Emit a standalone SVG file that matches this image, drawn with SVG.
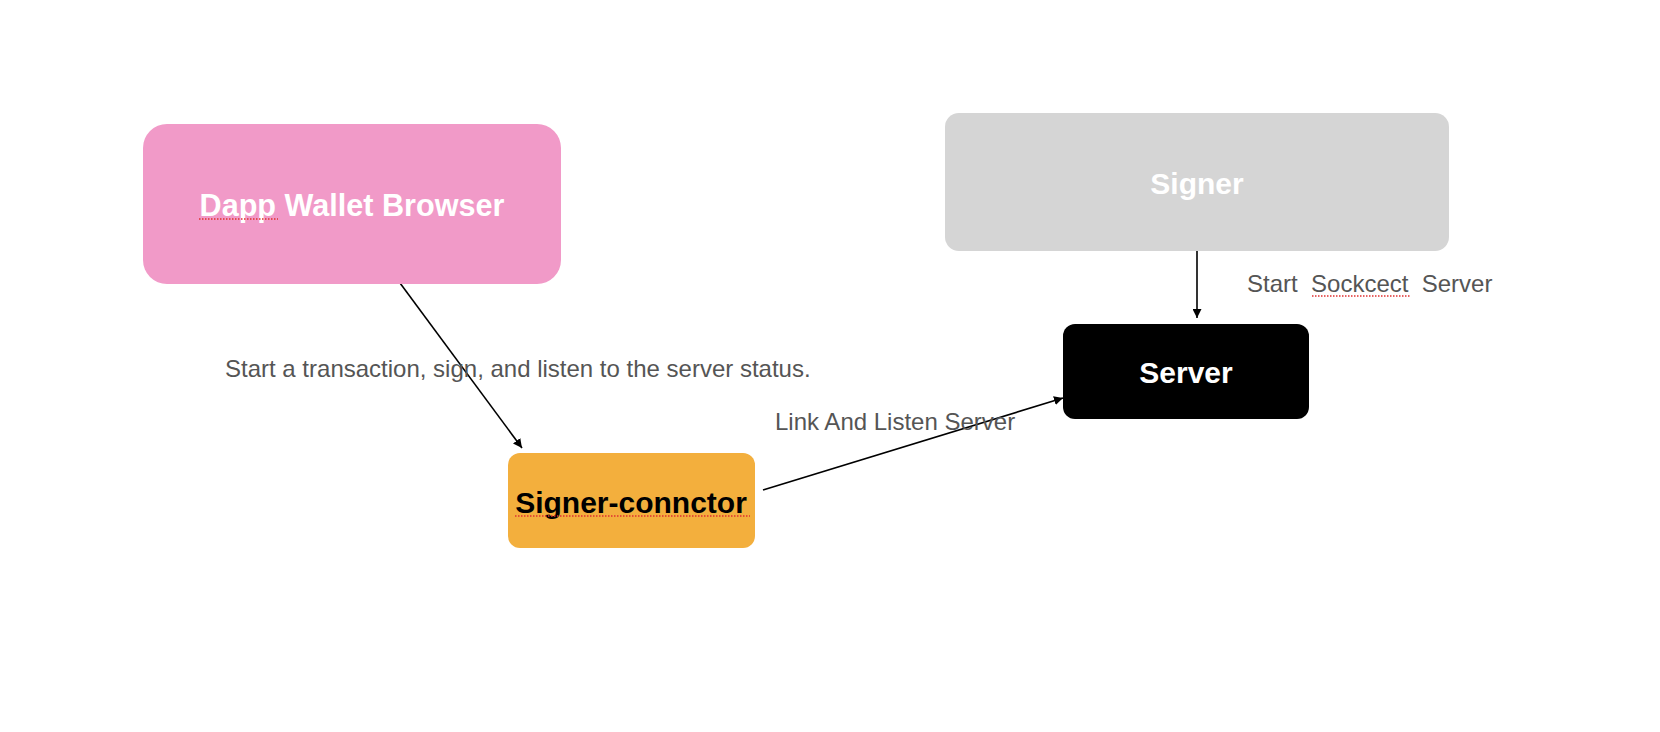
<svg xmlns="http://www.w3.org/2000/svg" width="1660" height="732" viewBox="0 0 1660 732">
<style>
.lbl{font-family:"Liberation Sans",Arial,sans-serif;font-size:24px;fill:#555555;white-space:pre}
.nt{font-family:"Liberation Sans",Arial,sans-serif;font-size:30px;font-weight:bold;text-anchor:middle}
.edge{stroke:#000;stroke-width:1.6;fill:none;marker-end:url(#ah)}
.spell{stroke:#e03030;stroke-width:1.5;stroke-dasharray:1.5 1.5;fill:none}
</style>
<defs>
<marker id="ah" viewBox="0 0 10 10" refX="10" refY="5" markerWidth="9" markerHeight="9" markerUnits="userSpaceOnUse" orient="auto">
<path d="M0,0 L10,5 L0,10 z" fill="#000"/>
</marker>
</defs>
<rect width="1660" height="732" fill="#fff"/>
<g id="connectors">
<line class="edge" x1="400" y1="283" x2="522" y2="448"/>
<line class="edge" x1="763" y1="490" x2="1063" y2="398"/>
<line class="edge" x1="1197" y1="251" x2="1197" y2="318"/>
</g>
<g id="node-dapp">
<rect x="143" y="124" width="418" height="160" rx="24" fill="#f19ac8"/>
<text class="nt" x="352" y="216" fill="#fff" style="font-size:30.6px">Dapp Wallet Browser</text>
<line class="spell" x1="199" y1="219" x2="278" y2="219"/>
</g>
<g id="node-signer">
<rect x="945" y="113" width="504" height="138" rx="14" fill="#d5d5d5"/>
<text class="nt" x="1197" y="194" fill="#fff">Signer</text>
</g>
<g id="node-server">
<rect x="1063" y="324" width="246" height="95" rx="12" fill="#000"/>
<text class="nt" x="1186" y="383" fill="#fff">Server</text>
</g>
<g id="node-connector">
<rect x="508" y="453" width="247" height="95" rx="12" fill="#f3af3d"/>
<text class="nt" x="631" y="513" fill="#000">Signer-connctor</text>
<line class="spell" x1="515" y1="516" x2="750" y2="516"/>
</g>
<g id="labels">
<text class="lbl" x="225" y="377">Start a transaction, sign, and listen to the server status.</text>
<text class="lbl" x="775" y="430">Link And Listen Server</text>
<text class="lbl" x="1247" y="292">Start  Sockcect  Server</text>
<line class="spell" x1="1312" y1="296" x2="1411" y2="296"/>
</g>
</svg>
